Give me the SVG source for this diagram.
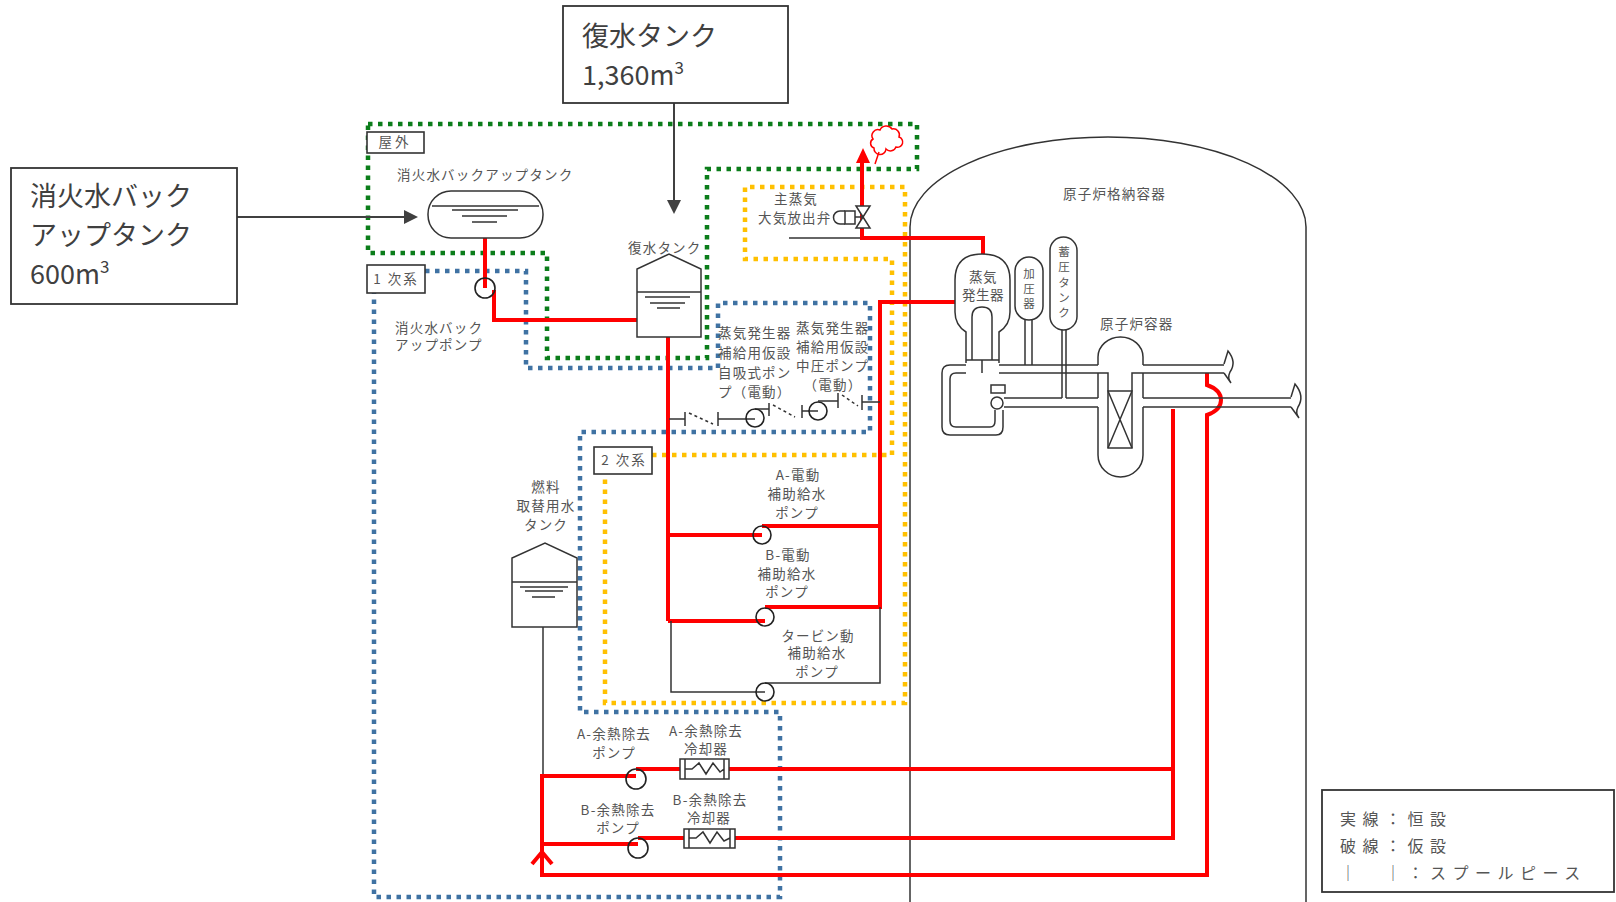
<svg xmlns="http://www.w3.org/2000/svg" width="1616" height="902" viewBox="0 0 1616 902">
<defs>
<style>
.t{font-family:"Noto Sans CJK JP","Noto Sans",sans-serif;fill:#555;font-size:13.5px;letter-spacing:1.2px}
.c{text-anchor:middle}
.v{font-family:"Noto Sans CJK JP","Noto Sans",sans-serif;fill:#555;font-size:11.5px;text-anchor:middle}
.big{font-family:"Noto Sans CJK JP","Noto Sans",sans-serif;fill:#404040;font-size:27px}
.lg{font-family:"Noto Sans CJK JP","Noto Sans",sans-serif;fill:#555;font-size:16px;letter-spacing:6.5px}
.red{stroke:#ff0000;stroke-width:4;fill:none}
.blk{stroke:#333;stroke-width:1.5;fill:none}
.eq{stroke:#333;stroke-width:1.5;fill:#fff}
.pump{stroke:#222;stroke-width:1.6;fill:none}
.dg{stroke:#0b7d1a;stroke-width:4.5;stroke-dasharray:4.5 5.5;fill:none}
.db{stroke:#3f72a3;stroke-width:4.5;stroke-dasharray:4.5 5.5;fill:none}
.do{stroke:#ffc000;stroke-width:4.5;stroke-dasharray:4.5 5.5;fill:none}
.box{stroke:#333;stroke-width:1.6;fill:#fff}
.arr{stroke:#404040;stroke-width:2;fill:none}
.dash{stroke:#333;stroke-width:1.5;stroke-dasharray:3 3;fill:none}
</style>
</defs>
<rect width="1616" height="902" fill="#fff"/>

<!-- region boundaries -->
<g id="regions">
<path class="dg" d="M368 124 H917 V169 H707 V358 H547 V253 H368 Z"/>
<path class="db" d="M425 271 H526 V368 H718 V303 H870 V432 H580 V712 H780 V897 H374 V293"/>
<path class="do" d="M652 455 H892 V259 H745 V187 H905 V703 H605 V474"/>
<g id="label-outdoor"><rect class="box" x="367" y="132" width="57" height="21"/><text class="t" x="395" y="147" text-anchor="middle" font-size="12" style="letter-spacing:3px">屋外</text></g>
<g id="label-primary"><rect class="box" x="367" y="265" width="58" height="28"/><text class="t" x="396" y="284" text-anchor="middle" font-size="12" style="letter-spacing:2px">1 次系</text></g>
<g id="label-secondary"><rect class="box" x="594" y="447" width="58" height="27"/><text class="t" x="624" y="465" text-anchor="middle" font-size="12" style="letter-spacing:2px">2 次系</text></g>
</g>

<!-- containment -->
<g id="containment">
<path class="blk" d="M910 902 V227 A198 90 0 0 1 1306 227 V902"/>
<text class="t" x="1063" y="199">原子炉格納容器</text>
</g>

<!-- connectors -->
<g id="connectors">
<path class="red" d="M485 238 V288"/>
<path class="red" d="M494 290 V320 H637"/>
<path class="red" d="M668 337 V621"/>
<path class="red" d="M668 535 H762"/>
<path class="red" d="M668 621 H765"/>
<path class="red" d="M762 526 H880"/>
<path class="red" d="M765 607 H880 V302 H955"/>
<path class="blk" d="M671 621 V692 H765"/>
<path class="blk" d="M765 683 H880 V607"/>
<path class="blk" d="M789 238 H862"/>
<path class="red" d="M983 254 V238 H862 V160"/>
<polygon points="856,163 863,148 870,163" fill="#ff0000"/>
<path class="blk" d="M669 419 H685 M685 412 V426 M718 412 V426 M718 419 H755"/>
<path class="dash" d="M689 413 L713 424"/>
<path class="blk" d="M755 409 H769 M769 403 V416 M802 405 V418 M802 411 H818"/>
<path class="dash" d="M773 405 L795 417"/>
<path class="blk" d="M818 401 H838 M838 393 V408 M862 395 V410 M862 402 H880"/>
<path class="dash" d="M842 395 L858 406"/>
<path class="blk" d="M543 627 V776"/>
<path class="red" d="M1207 373 V385 Q1221 390 1221 400 Q1221 410 1207 415 V875 H542 V776 H636"/>
<path class="red" d="M542 844 H638"/>
<path class="red" d="M636 769 H1173"/>
<path class="red" d="M638 838 H1173"/>
<path class="red" d="M1173 409 V840"/>
<path d="M532 864 L542 852 L552 864" stroke="#ff0000" stroke-width="4" fill="none"/>
<path class="arr" d="M674 103 V202"/>
<polygon points="667,200 681,200 674,214" fill="#404040"/>
<path class="arr" d="M237 217 H406"/>
<polygon points="404,210 404,224 418,217" fill="#404040"/>
</g>

<g id="fire-tank">
<text class="t" x="397" y="180">消火水バックアップタンク</text>
<rect class="eq" x="428" y="191" width="115" height="47" rx="23" ry="23"/>
<path class="blk" d="M432 206 H539 M452 210 H518 M462 216 H507 M472 222 H497"/>
</g>
<g id="fire-pump">
<circle class="pump" cx="485" cy="288" r="10"/>
<text class="t" x="395" y="333">消火水バック</text>
<text class="t" x="395" y="350">アップポンプ</text>
</g>

<g id="condensate-tank">
<text class="t" x="628" y="253">復水タンク</text>
<path class="eq" d="M637 337 V269 L669 254 L701 269 V337 Z"/>
<path class="blk" d="M637 292 H701 M645 297 H690 M650 303 H685 M657 308 H680"/>
</g>

<g id="msrv">
<text class="t" x="796" y="204" text-anchor="middle">主蒸気</text>
<text class="t" x="758" y="223">大気放出弁</text>
<path class="blk" d="M855 217 H863"/>
<rect class="eq" x="845" y="211" width="10" height="13"/>
<path class="blk" d="M845 211 H840 A6.5 6.5 0 0 0 840 224 H845"/>
<polygon class="eq" points="856,206 870,206 863,217"/>
<polygon class="eq" points="856,228 870,228 863,217"/>
<path d="M874 148 a5 5 0 0 1 -1 -9 a6 6 0 0 1 7 -9 a7 7 0 0 1 12 -1 a6 6 0 0 1 7 8 a5 5 0 0 1 -3 10 a6 6 0 0 1 -10 2 a6 6 0 0 1 -12 -1 z" stroke="#ff0000" stroke-width="1.5" fill="#fff"/>
<path d="M879 152 L875 164" stroke="#ff0000" stroke-width="1.5" fill="none"/>
</g>

<g id="temp-pump-1">
<circle class="pump" cx="755" cy="418" r="9"/>
<text class="t" x="718" y="338">蒸気発生器</text>
<text class="t" x="718" y="358">補給用仮設</text>
<text class="t" x="718" y="378">自吸式ポン</text>
<text class="t" x="718" y="397">プ（電動）</text>
</g>
<g id="temp-pump-2">
<circle class="pump" cx="818" cy="411" r="9"/>
<text class="t" x="796" y="333">蒸気発生器</text>
<text class="t" x="796" y="352">補給用仮設</text>
<text class="t" x="796" y="371">中圧ポンプ</text>
<text class="t" x="833" y="390" text-anchor="middle">（電動）</text>
</g>

<g id="afw-a">
<circle class="pump" cx="762" cy="535" r="9"/>
<text class="t c" x="798" y="480">A-電動</text>
<text class="t c" x="797" y="499">補助給水</text>
<text class="t c" x="797" y="518">ポンプ</text>
</g>
<g id="afw-b">
<circle class="pump" cx="765" cy="617" r="9"/>
<text class="t c" x="788" y="560">B-電動</text>
<text class="t c" x="787" y="579">補助給水</text>
<text class="t c" x="787" y="597">ポンプ</text>
</g>
<g id="afw-t">
<circle class="pump" cx="765" cy="692" r="9"/>
<text class="t c" x="818" y="641">タービン動</text>
<text class="t c" x="817" y="658">補助給水</text>
<text class="t c" x="817" y="677">ポンプ</text>
</g>

<g id="rwst">
<text class="t c" x="546" y="492">燃料</text>
<text class="t c" x="546" y="511">取替用水</text>
<text class="t c" x="546" y="530">タンク</text>
<path class="eq" d="M512 627 V558 L545 543 L577 558 V627 Z"/>
<path class="blk" d="M512 582 H577 M520 587 H568 M525 591 H563 M532 597 H555"/>
</g>

<g id="rhr-pump-a">
<circle class="pump" cx="636" cy="779" r="10"/>
<text class="t c" x="614" y="739">A-余熱除去</text>
<text class="t c" x="614" y="758">ポンプ</text>
</g>
<g id="rhr-cooler-a">
<rect class="eq" x="680" y="759" width="49" height="20"/>
<path class="blk" d="M685 759 V779 M724 759 V779 M685 769 H692 L699 763 L706 774 L713 763 L720 772 L724 769"/>
<text class="t c" x="706" y="736">A-余熱除去</text>
<text class="t c" x="706" y="754">冷却器</text>
</g>
<g id="rhr-pump-b">
<circle class="pump" cx="638" cy="848" r="10"/>
<text class="t c" x="618" y="815">B-余熱除去</text>
<text class="t c" x="618" y="833">ポンプ</text>
</g>
<g id="rhr-cooler-b">
<rect class="eq" x="684" y="829" width="51" height="19"/>
<path class="blk" d="M689 829 V848 M730 829 V848 M689 838 H696 L703 832 L710 843 L717 832 L724 841 L730 838"/>
<text class="t c" x="710" y="805">B-余熱除去</text>
<text class="t c" x="709" y="823">冷却器</text>
</g>

<g id="steam-generator">
<path class="eq" d="M966 363 V332 Q955 325 955 312 V280 Q955 254 982 254 Q1010 254 1010 280 V312 Q1010 325 999 332 V363"/>
<path class="blk" d="M972 360 V317 Q972 307 982 307 Q992 307 992 317 V360 M966 360 H999 M982 360 V373"/>
<text class="t c" x="983" y="282" style="letter-spacing:0.5px">蒸気</text>
<text class="t c" x="983" y="300" style="letter-spacing:0.5px">発生器</text>
</g>
<g id="pressurizer">
<rect class="eq" x="1015" y="257" width="28" height="63" rx="14" ry="14"/>
<path class="blk" d="M1025 320 V365 M1032 320 V365"/>
<text class="v" x="1029" y="278">加</text>
<text class="v" x="1029" y="293">圧</text>
<text class="v" x="1029" y="308">器</text>
</g>
<g id="accumulator">
<rect class="eq" x="1050" y="237" width="27" height="93" rx="13.5" ry="13.5"/>
<path class="blk" d="M1062 330 V398 M1066 330 V398"/>
<text class="v" x="1064" y="256">蓄</text>
<text class="v" x="1064" y="271">圧</text>
<text class="v" x="1064" y="287">タ</text>
<text class="v" x="1064" y="302">ン</text>
<text class="v" x="1064" y="317">ク</text>
</g>
<g id="rcs-piping">
<path class="blk" d="M966 365 H950 Q942 365 942 373 V427 Q942 435 950 435 H996 Q1003 435 1003 427 V410"/>
<path class="blk" d="M966 373 H956 Q950 373 950 379 V421 Q950 427 956 427 H990 Q995 427 995 421 V410"/>
<path class="blk" d="M999 365 H1098 M999 373 H1098 M1004 398 H1062 M1066 398 H1098 M1004 407 H1098"/>
<path class="blk" d="M1143 365 H1224 M1143 373 H1224 M1143 398 H1291 M1143 407 H1291"/>
<path class="blk" d="M1224 364 L1228 351 Q1237 362 1230 372 Q1227 378 1231 383 L1224 373"/>
<path class="blk" d="M1291 397 L1295 384 Q1305 396 1298 407 Q1295 413 1299 418 L1291 407"/>
<circle class="eq" cx="997" cy="403" r="6"/>
<rect class="eq" x="991" y="385" width="14" height="8"/>
</g>
<g id="reactor-vessel">
<text class="t" x="1100" y="329">原子炉容器</text>
<path class="blk" d="M1098 365 V357 A22.5 20 0 0 1 1143 357 V365"/>
<path class="blk" d="M1098 373 V398 M1143 373 V398"/>
<path class="blk" d="M1098 407 V455 A22.5 22 0 0 0 1143 455 V407"/>
<path class="blk" d="M1098 373 H1108 V391 M1143 373 H1132 V391"/>
<rect class="blk" x="1108" y="391" width="24" height="57"/>
<path class="blk" d="M1108 391 L1132 448 M1132 391 L1108 448"/>
</g>

<g id="callout-condensate">
<rect x="563" y="6" width="225" height="97" fill="#fff" stroke="#333" stroke-width="1.8"/>
<text class="big" x="582" y="46">復水タンク</text>
<text class="big" x="582" y="85">1,360m<tspan font-size="17" dy="-11">3</tspan></text>
</g>
<g id="callout-fire">
<rect x="11" y="168" width="226" height="136" fill="#fff" stroke="#333" stroke-width="1.8"/>
<text class="big" x="30" y="206">消火水バック</text>
<text class="big" x="30" y="245">アップタンク</text>
<text class="big" x="30" y="284">600m<tspan font-size="17" dy="-11">3</tspan></text>
</g>

<g id="legend">
<rect x="1322" y="790" width="292" height="102" fill="#fff" stroke="#333" stroke-width="1.8"/>
<text class="lg" x="1340" y="825">実線：恒設</text>
<text class="lg" x="1340" y="852">破線：仮設</text>
<text class="lg" x="1340" y="879">│　│：スプールピース</text>
</g>
</svg>
